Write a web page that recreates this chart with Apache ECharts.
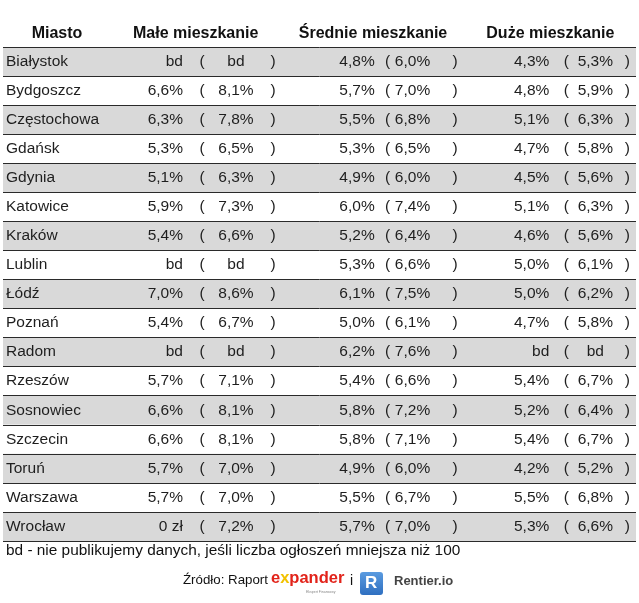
<!DOCTYPE html>
<html>
<head>
<meta charset="utf-8">
<script src="https://cdn.jsdelivr.net/npm/echarts@6/dist/echarts.min.js"></script>
<style>html,body{margin:0;padding:0;background:#fff;}#c{width:639px;height:603px;}</style>
</head>
<body>
<div id="c"></div>
<script>
// ---- DATA ----
const cities = ['Białystok','Bydgoszcz','Częstochowa','Gdańsk','Gdynia','Katowice','Kraków','Lublin','Łódź','Poznań','Radom','Rzeszów','Sosnowiec','Szczecin','Toruń','Warszawa','Wrocław'];
const columns = ['Małe mieszkanie','Średnie mieszkanie','Duże mieszkanie'];
const smallVal  = ['bd','6,6%','6,3%','5,3%','5,1%','5,9%','5,4%','bd','7,0%','5,4%','bd','5,7%','6,6%','6,6%','5,7%','5,7%','0 zł'];
const smallPar  = ['bd','8,1%','7,8%','6,5%','6,3%','7,3%','6,6%','bd','8,6%','6,7%','bd','7,1%','8,1%','8,1%','7,0%','7,0%','7,2%'];
const mediumVal = ['4,8%','5,7%','5,5%','5,3%','4,9%','6,0%','5,2%','5,3%','6,1%','5,0%','6,2%','5,4%','5,8%','5,8%','4,9%','5,5%','5,7%'];
const mediumPar = ['6,0%','7,0%','6,8%','6,5%','6,0%','7,4%','6,4%','6,6%','7,5%','6,1%','7,6%','6,6%','7,2%','7,1%','6,0%','6,7%','7,0%'];
const largeVal  = ['4,3%','4,8%','5,1%','4,7%','4,5%','5,1%','4,6%','5,0%','5,0%','4,7%','bd','5,4%','5,2%','5,4%','4,2%','5,5%','5,3%'];
const largePar  = ['5,3%','5,9%','6,3%','5,8%','5,6%','6,3%','5,6%','6,1%','6,2%','5,8%','bd','6,7%','6,4%','6,7%','5,2%','6,8%','6,6%'];
const firstHeader = 'Miasto';
const footnote = 'bd - nie publikujemy danych, jeśli liczba ogłoszeń mniejsza niż 100';

// ---- build ----
const cellText = [[smallVal, smallPar],[mediumVal, mediumPar],[largeVal, largePar]];
const cells = [];
for (let c = 0; c < columns.length; c++) for (let r = 0; r < cities.length; r++) cells.push([c, r]);
const rowItems = cities.map((name, i) => [0, i]);

const FONT = '"Liberation Sans", Arial, sans-serif';
const TXT = '#1e1e1e';
const BODY = 15.5;
// per-column layout offsets from the column centre (style only)
const offs = [
  {v1: -12.7, lp: 6.3, v2: 40.3, rp: 77.3},
  {v1: 1.7, lp: 14.7, v2: 39.5, rp: 82},
  {v1: -1, lp: 16, v2: 45, rp: 77}
];
function t(x, y, text, align) {
  return {type: 'text', style: {x: x, y: y, text: text, align: align, textAlign: align,
    verticalAlign: 'middle', textVerticalAlign: 'middle', fontSize: BODY, fontFamily: FONT, fill: TXT}};
}

const chart = echarts.init(document.getElementById('c'), null, {renderer: 'canvas'});
chart.setOption({
  animation: false,
  backgroundColor: '#fff',
  title: [
    {text: firstHeader, left: 57, top: 26, textAlign: 'center', padding: 0,
     textStyle: {fontSize: 16, fontWeight: 'bold', fontFamily: FONT, color: '#111'}},
    {text: footnote, left: 6, top: 543, padding: 0,
     textStyle: {fontSize: 15.4, fontWeight: 'normal', fontFamily: FONT, color: '#111'}}
  ],
  grid: [
    {left: 3, right: 3, top: 47, bottom: 62},
    {left: 107, right: 0, top: 47, bottom: 62}
  ],
  xAxis: [
    {type: 'category', gridIndex: 0, data: [''], show: false,
     axisLine: {show: false}, axisTick: {show: false}, axisLabel: {show: false},
     splitLine: {show: false}, splitArea: {show: false}},
    {type: 'category', gridIndex: 1, data: columns, position: 'top',
     axisLine: {show: false}, axisTick: {show: false}, splitLine: {show: false}, splitArea: {show: false},
     axisLabel: {interval: 0, hideOverlap: false, margin: 5, fontSize: 16, fontWeight: 'bold', fontFamily: FONT, color: '#111'}}
  ],
  yAxis: [
    {type: 'category', gridIndex: 0, data: cities, inverse: true, z: 5,
     axisLine: {show: false}, axisTick: {show: false},
     axisLabel: {inside: true, margin: 3, fontSize: BODY, fontFamily: FONT, color: TXT},
     splitLine: {show: true, showMinLine: true, showMaxLine: true, lineStyle: {color: '#2a2a2a', width: 1}},
     splitArea: {show: false}},
    {type: 'category', gridIndex: 1, data: cities, inverse: true, show: false,
     splitLine: {show: false}, splitArea: {show: false}}
  ],
  series: [{
    type: 'custom',
    name: 'rows',
    xAxisIndex: 0, yAxisIndex: 0,
    z: 0, silent: true,
    data: rowItems,
    encode: {x: 0, y: 1},
    renderItem: function (params, api) {
      const r = api.value(1);
      const p = api.coord([0, r]);
      const h = api.size([0, 1])[1];
      const cs = params.coordSys;
      return {type: 'rect', shape: {x: cs.x, y: p[1] - h / 2, width: cs.width, height: h},
        style: {fill: r % 2 === 0 ? '#d9d9d9' : '#ffffff'}};
    }
  }, {
    type: 'custom',
    name: 'cells',
    xAxisIndex: 1, yAxisIndex: 1,
    z: 10,
    data: cells,
    encode: {x: 0, y: 1},
    renderItem: function (params, api) {
      const c = api.value(0), r = api.value(1);
      const p = api.coord([c, r]);
      const o = offs[c];
      const v1 = cellText[c][0][r], v2 = cellText[c][1][r];
      return {type: 'group', children: [
        t(p[0] + o.v1, p[1], v1, 'right'),
        t(p[0] + o.lp, p[1], '(', 'center'),
        t(p[0] + o.v2, p[1], v2, 'center'),
        t(p[0] + o.rp, p[1], ')', 'center')
      ]};
    }
  }],
  graphic: [
    {type: 'text', left: 183, top: 574, style: {text: 'Źródło: Raport', fontSize: 13.3, fontFamily: FONT, fill: '#111'}},
    {type: 'text', left: 271, top: 570, style: {
      text: '{e|e}{x|x}{p|pander}', fontFamily: FONT,
      rich: {
        e: {fontSize: 16.5, fontWeight: 'bold', fill: '#e2231a', color: '#e2231a', fontFamily: FONT},
        x: {fontSize: 16.5, fontWeight: 'bold', fill: '#f2c200', color: '#f2c200', fontFamily: FONT},
        p: {fontSize: 16.5, fontWeight: 'bold', fill: '#e2231a', color: '#e2231a', fontFamily: FONT}
      }}},
    {type: 'text', left: 306, top: 590, style: {text: 'Ekspert Finansowy', fontSize: 3.5, fontFamily: FONT, fill: '#888'}},
    {type: 'text', left: 350, top: 574, style: {text: 'i', fontSize: 14, fontFamily: FONT, fill: '#111'}},
    {type: 'rect', shape: {x: 360, y: 572, width: 23, height: 23, r: 3},
     style: {fill: new echarts.graphic.LinearGradient(0, 0, 0, 1, [{offset: 0, color: '#5a9be0'}, {offset: 1, color: '#2f6fc0'}])}},
    {type: 'text', left: 365, top: 575, style: {text: 'R', fontSize: 17, fontWeight: 'bold', fontFamily: FONT, fill: '#fff'}},
    {type: 'text', left: 394, top: 575, style: {text: 'Rentier.io', fontSize: 13, fontWeight: 'bold', fontFamily: FONT, fill: '#444'}}
  ]
});
</script>
</body>
</html>
